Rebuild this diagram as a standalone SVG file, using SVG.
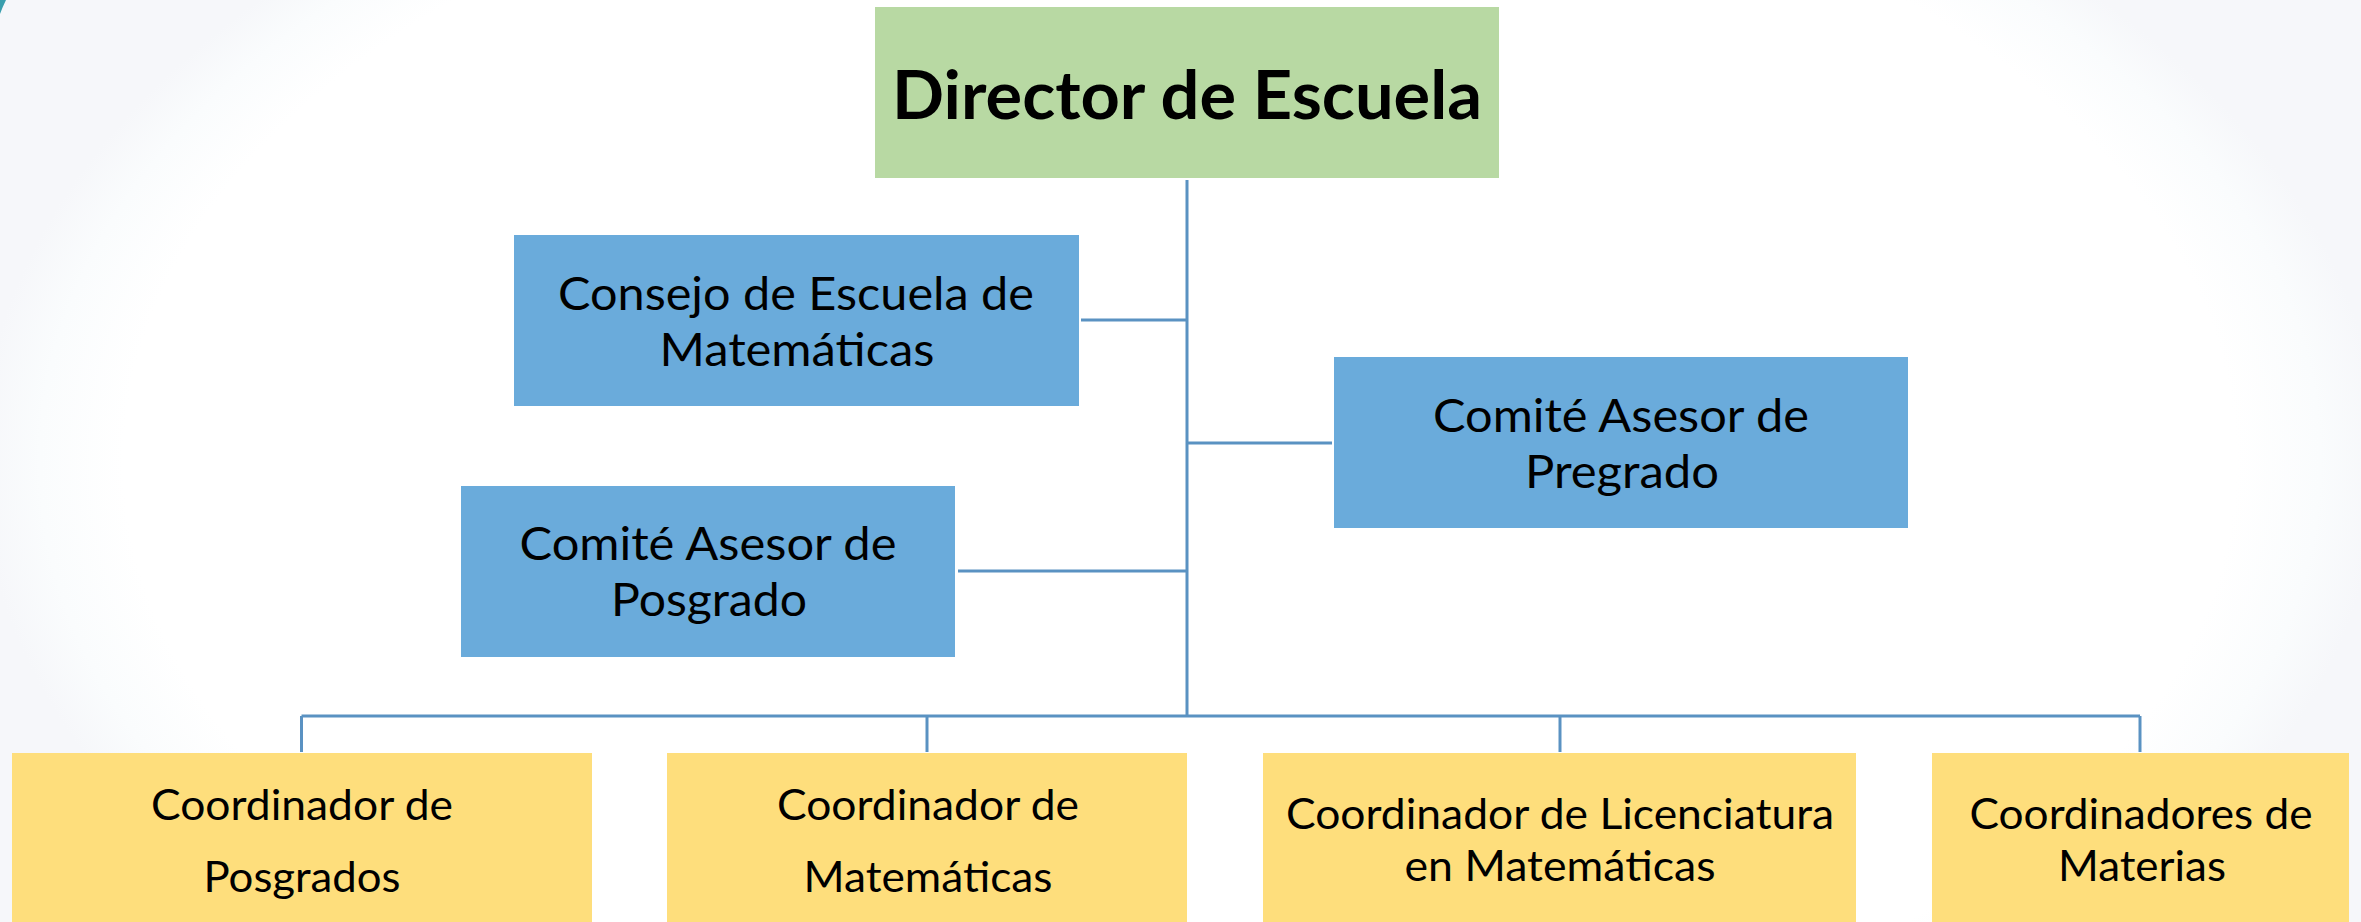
<svg xmlns="http://www.w3.org/2000/svg" width="2361" height="922" viewBox="0 0 2361 922">
<style>
.t{font-family:Lato,"Open Sans","Liberation Sans",sans-serif;fill:#000;text-anchor:middle}
.b{font-size:47px}
.y{font-size:42px}
.h{font-size:67px;font-weight:bold}
.con{stroke:#5a92c2;stroke-width:3;fill:none}
.green{fill:#b8d9a3}
.blue{fill:#6aabdb}
.yellow{fill:#fede7c}
</style>
<defs>
<radialGradient id="bg" gradientUnits="userSpaceOnUse" cx="1180" cy="461" r="1200" gradientTransform="translate(0 461) scale(1 0.6) translate(0 -461)">
<stop offset="0" stop-color="#ffffff"/>
<stop offset="0.88" stop-color="#ffffff"/>
<stop offset="0.95" stop-color="#fafcfd"/>
<stop offset="1" stop-color="#f6f7fa"/>
</radialGradient>
</defs>
<rect x="0" y="0" width="2361" height="922" fill="url(#bg)"/>
<path d="M0 0 L6 0 Q3 6 0 14 Z" fill="#3a9fae"/>
<g id="connectors">
<line class="con" x1="1187" y1="180" x2="1187" y2="717"/>
<line class="con" x1="1081" y1="320" x2="1187" y2="320"/>
<line class="con" x1="1187" y1="443" x2="1332" y2="443"/>
<line class="con" x1="958" y1="571" x2="1187" y2="571"/>
<line class="con" x1="301.5" y1="716" x2="2140" y2="716"/>
<line class="con" x1="301.5" y1="716" x2="301.5" y2="752"/>
<line class="con" x1="927" y1="716" x2="927" y2="752"/>
<line class="con" x1="1560" y1="716" x2="1560" y2="752"/>
<line class="con" x1="2140" y1="716" x2="2140" y2="752"/>
</g>
<g id="director">
<rect class="green" x="875" y="7" width="624" height="171"/>
<text class="t h" x="1187" y="119" textLength="590" lengthAdjust="spacingAndGlyphs">Director de Escuela</text>
</g>
<g id="consejo">
<rect class="blue" x="514" y="235" width="565" height="171"/>
<text class="t b" x="796" y="310" textLength="476" lengthAdjust="spacingAndGlyphs">Consejo de Escuela de</text>
<text class="t b" x="797" y="366" textLength="275" lengthAdjust="spacingAndGlyphs">Matemáticas</text>
</g>
<g id="comite-pregrado">
<rect class="blue" x="1334" y="357" width="574" height="171"/>
<text class="t b" x="1621" y="432" textLength="376" lengthAdjust="spacingAndGlyphs">Comité Asesor de</text>
<text class="t b" x="1622" y="488" textLength="194" lengthAdjust="spacingAndGlyphs">Pregrado</text>
</g>
<g id="comite-posgrado">
<rect class="blue" x="461" y="486" width="494" height="171"/>
<text class="t b" x="708" y="560" textLength="377" lengthAdjust="spacingAndGlyphs">Comité Asesor de</text>
<text class="t b" x="709" y="616" textLength="196" lengthAdjust="spacingAndGlyphs">Posgrado</text>
</g>
<g id="coord-posgrados">
<rect class="yellow" x="12" y="753" width="580" height="175"/>
<text class="t y" x="302" y="820" textLength="302" lengthAdjust="spacingAndGlyphs">Coordinador de</text>
<text class="t y" x="302" y="892" textLength="197" lengthAdjust="spacingAndGlyphs">Posgrados</text>
</g>
<g id="coord-matematicas">
<rect class="yellow" x="667" y="753" width="520" height="175"/>
<text class="t y" x="928" y="820" textLength="302" lengthAdjust="spacingAndGlyphs">Coordinador de</text>
<text class="t y" x="928" y="892" textLength="249" lengthAdjust="spacingAndGlyphs">Matemáticas</text>
</g>
<g id="coord-licenciatura">
<rect class="yellow" x="1263" y="753" width="593" height="175"/>
<text class="t y" x="1560" y="829" textLength="548" lengthAdjust="spacingAndGlyphs">Coordinador de Licenciatura</text>
<text class="t y" x="1560" y="881" textLength="311" lengthAdjust="spacingAndGlyphs">en Matemáticas</text>
</g>
<g id="coord-materias">
<rect class="yellow" x="1932" y="753" width="417" height="175"/>
<text class="t y" x="2141" y="829" textLength="343" lengthAdjust="spacingAndGlyphs">Coordinadores de</text>
<text class="t y" x="2142" y="881" textLength="168" lengthAdjust="spacingAndGlyphs">Materias</text>
</g>
</svg>
